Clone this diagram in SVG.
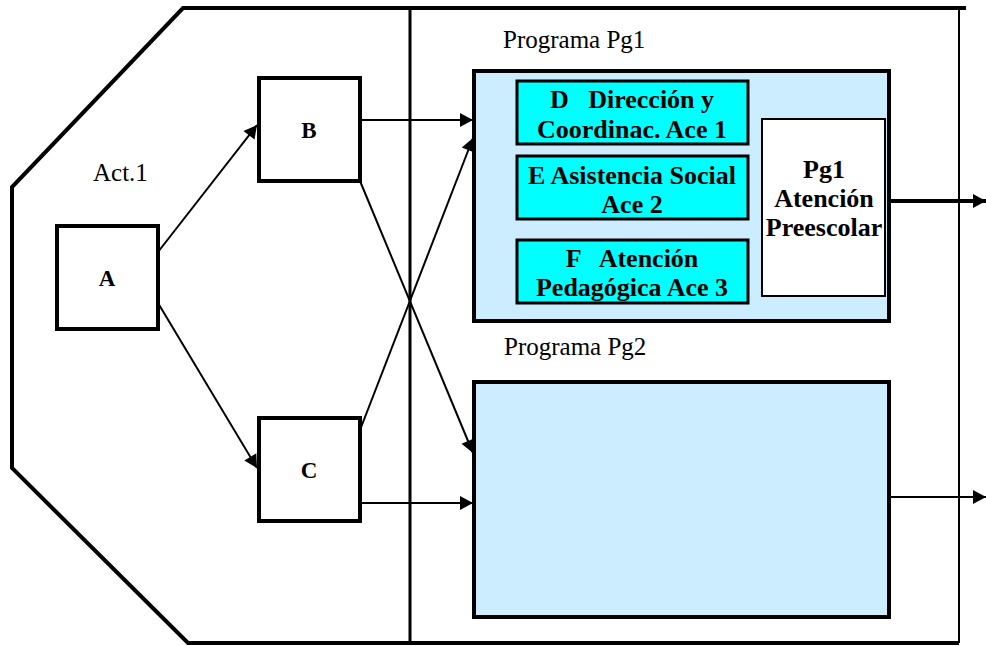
<svg xmlns="http://www.w3.org/2000/svg" width="986" height="646" viewBox="0 0 986 646">
<defs>
<marker id="ah" markerUnits="userSpaceOnUse" markerWidth="14" markerHeight="14" refX="13" refY="7" orient="auto" overflow="visible">
<path d="M0,0 L13,7 L0,14 z" fill="#000"/>
</marker>
<style>
.lbl{font-family:"Liberation Serif","Times New Roman",serif;font-size:25px;fill:#000}
.bl{font-family:"Liberation Serif","Times New Roman",serif;font-size:26px;font-weight:bold;fill:#000;text-anchor:middle;white-space:pre}
.lt{font-family:"Liberation Serif","Times New Roman",serif;font-size:23px;font-weight:bold;fill:#000;text-anchor:middle}
.box{fill:#fff;stroke:#000;stroke-width:4}
.pg{fill:#CCECFF;stroke:#000;stroke-width:4}
.ace{fill:#00FFFF;stroke:#000;stroke-width:3}
.con{fill:none;stroke:#000;stroke-width:2}
</style>
</defs>
<rect width="986" height="646" fill="#fff"/>
<g id="frame" fill="none" stroke="#000">
<path d="M966,8 L183,8 L12,187 L12,468 L188,643 L959,643" stroke-width="4"/>
<line x1="959" y1="8" x2="959" y2="643" stroke-width="2"/>
<line x1="410" y1="8" x2="410" y2="643" stroke-width="3"/>
</g>
<text class="lbl" x="93" y="181">Act.1</text>
<text class="lbl" x="503" y="48">Programa Pg1</text>
<text class="lbl" x="504" y="355">Programa Pg2</text>
<g id="A"><rect class="box" x="57" y="226" width="101" height="103"/><text class="lt" x="107" y="286">A</text></g>
<g id="B"><rect class="box" x="259" y="78" width="101" height="103"/><text class="lt" x="309" y="138">B</text></g>
<g id="C"><rect class="box" x="259" y="418" width="101" height="103"/><text class="lt" x="309" y="478">C</text></g>
<g id="Pg1">
<rect class="pg" x="474" y="71" width="415" height="250"/>
<g id="D"><rect class="ace" x="517" y="81" width="231" height="63"/>
<text class="bl" x="632" y="108">D   Dirección y</text><text class="bl" x="632" y="138">Coordinac. Ace 1</text></g>
<g id="E"><rect class="ace" x="517" y="156" width="231" height="63"/>
<text class="bl" x="632" y="184">E Asistencia Social</text><text class="bl" x="632" y="213">Ace 2</text></g>
<g id="F"><rect class="ace" x="517" y="240" width="231" height="63"/>
<text class="bl" x="632" y="267">F   Atención</text><text class="bl" x="632" y="296">Pedagógica Ace 3</text></g>
<g id="Pg1out"><rect x="762" y="119" width="123" height="177" fill="#fff" stroke="#000" stroke-width="2"/>
<text class="bl" x="824" y="178">Pg1</text><text class="bl" x="824" y="207">Atención</text><text class="bl" x="824" y="236">Preescolar</text></g>
</g>
<g id="Pg2"><rect class="pg" x="474" y="382" width="415" height="235"/></g>
<g id="connectors">
<line class="con" x1="158" y1="252" x2="257" y2="125" marker-end="url(#ah)"/>
<line class="con" x1="158" y1="303" x2="257" y2="468" marker-end="url(#ah)"/>
<line class="con" x1="360" y1="120" x2="473" y2="120" marker-end="url(#ah)"/>
<line class="con" x1="360" y1="430" x2="473" y2="138" marker-end="url(#ah)"/>
<line class="con" x1="360" y1="181" x2="473" y2="453" marker-end="url(#ah)"/>
<line class="con" x1="360" y1="503" x2="473" y2="503" marker-end="url(#ah)"/>
<line x1="889" y1="201" x2="986" y2="201" stroke="#000" stroke-width="4" marker-end="url(#ah)"/>
<line class="con" x1="889" y1="497" x2="986" y2="497" stroke-width="3" marker-end="url(#ah)"/>
</g>
</svg>
